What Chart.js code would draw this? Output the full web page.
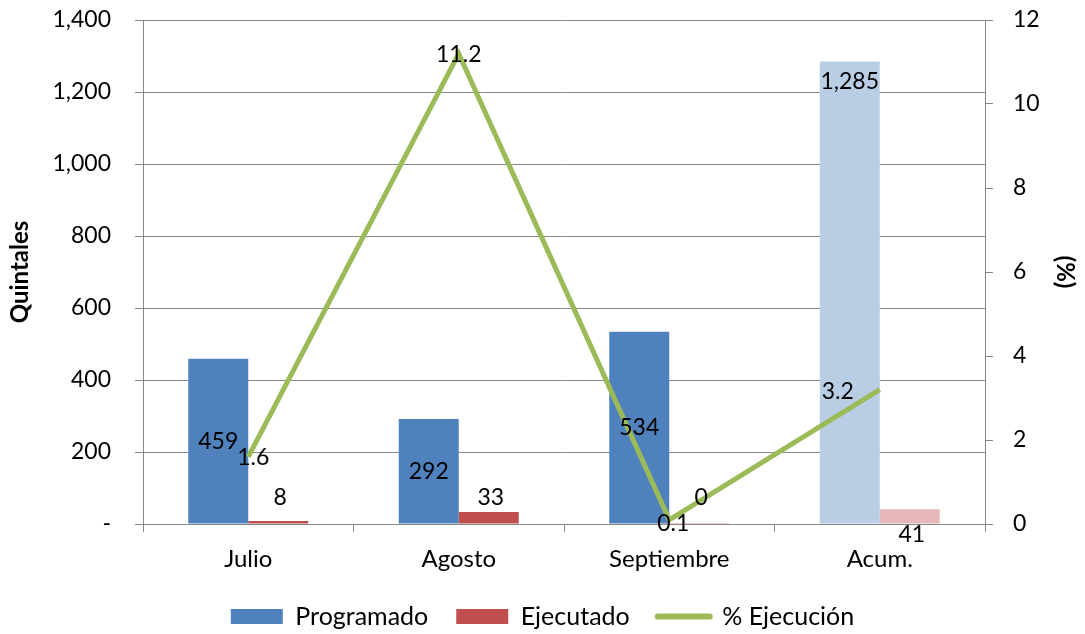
<!DOCTYPE html>
<html>
<head>
<meta charset="utf-8">
<script src="https://cdn.jsdelivr.net/npm/chart.js@4.4.1/dist/chart.umd.min.js"></script>
<style>
  html, body { margin: 0; padding: 0; background: #fff; }
  #wrap { width: 1085px; height: 634px; }
</style>
</head>
<body>
<div id="wrap"><canvas id="grafico" width="1085" height="634"></canvas></div>
<script>
// Datos del gráfico
const categorias = ['Julio', 'Agosto', 'Septiembre', 'Acum.'];
const programado = [459, 292, 534, 1285];
const ejecutado = [8, 33, 0.4, 41];
const porcEjecucion = [1.6, 11.2, 0.1, 3.2];
const ticksQuintales = [0, 200, 400, 600, 800, 1000, 1200, 1400];
const ticksPorc = [0, 2, 4, 6, 8, 10, 12];

const AZUL = '#4F81BD';
const AZUL_CLARO = '#B9CDE5';
const ROJO = '#C0504D';
const ROJO_CLARO = '#E6B9B8';
const VERDE = '#9BBB59';
const GRIS = '#878787';
const FUENTE = 'Lato, "Open Sans", sans-serif';

// Desplazamientos de las etiquetas de la línea (px respecto al punto)
const offsetsLinea = [[5, 1], [0, 1], [4, 4], [-42, 2]];

const fmt = v => Math.round(v).toLocaleString('en-US');

// Plugin sencillo para las etiquetas de datos
const etiquetasPlugin = {
  id: 'etiquetas',
  afterDatasetsDraw(chart) {
    const ctx = chart.ctx;
    ctx.save();
    ctx.font = '23px ' + FUENTE;
    ctx.fillStyle = '#000';
    ctx.textAlign = 'center';
    ctx.textBaseline = 'middle';

    // Programado
    chart.getDatasetMeta(0).data.forEach((el, i) => {
      const y = i === 3 ? el.y + 20 : (el.y + el.base) / 2;
      ctx.fillText(fmt(programado[i]), el.x, y);
    });

    // Ejecutado
    chart.getDatasetMeta(1).data.forEach((el, i) => {
      const y = i === 3 ? el.base + 11 : el.base - 26;
      ctx.fillText(fmt(ejecutado[i]), el.x + 2, y);
    });

    // % Ejecución
    chart.getDatasetMeta(2).data.forEach((el, i) => {
      const [dx, dy] = offsetsLinea[i];
      ctx.fillText(porcEjecucion[i].toFixed(1), el.x + dx, el.y + dy);
    });
    ctx.restore();
  }
};

// Ajuste del ancho de los ejes verticales sin relleno extra arriba/abajo
const ajustarEjeY = ancho => scale => {
  scale.width = ancho;
  scale.paddingTop = 0;
  scale.paddingBottom = 0;
};

const ctx = document.getElementById('grafico');
new Chart(ctx, {
  type: 'bar',
  data: {
    labels: categorias,
    datasets: [
      {
        label: 'Programado',
        data: programado,
        backgroundColor: programado.map((_, i) => i === 3 ? AZUL_CLARO : AZUL),
        yAxisID: 'y',
        order: 2,
        categoryPercentage: 0.57,
        barPercentage: 1
      },
      {
        label: 'Ejecutado',
        data: ejecutado,
        backgroundColor: ejecutado.map((_, i) => i === 3 ? ROJO_CLARO : ROJO),
        yAxisID: 'y',
        order: 2,
        categoryPercentage: 0.57,
        barPercentage: 1
      },
      {
        type: 'line',
        label: '% Ejecución',
        data: porcEjecucion,
        borderColor: VERDE,
        backgroundColor: VERDE,
        borderWidth: 5,
        borderJoinStyle: 'miter',
        pointRadius: 0,
        tension: 0,
        yAxisID: 'y1',
        order: 1
      }
    ]
  },
  options: {
    responsive: false,
    animation: false,
    layout: { padding: { top: 20, left: 0, right: 0, bottom: -5 } },
    plugins: {
      tooltip: { enabled: false },
      legend: {
        position: 'bottom',
        labels: {
          font: { family: FUENTE, size: 25 },
          color: '#000',
          usePointStyle: true,
          pointStyleWidth: 52,
          boxWidth: 52,
          boxHeight: 15,
          padding: 28,
          generateLabels(chart) {
            return [
              { text: 'Programado', fillStyle: AZUL, strokeStyle: AZUL, lineWidth: 0, pointStyle: 'rect', datasetIndex: 0 },
              { text: 'Ejecutado', fillStyle: ROJO, strokeStyle: ROJO, lineWidth: 0, pointStyle: 'rect', datasetIndex: 1 },
              { text: '% Ejecución', fillStyle: VERDE, strokeStyle: VERDE, lineWidth: 6, lineCap: 'round', pointStyle: 'line', datasetIndex: 2 }
            ];
          }
        }
      }
    },
    scales: {
      x: {
        grid: {
          offset: true,
          drawOnChartArea: false,
          color: GRIS,
          tickLength: 8
        },
        border: { color: GRIS },
        ticks: {
          font: { family: FUENTE, size: 24 },
          color: '#000',
          padding: 13
        },
        afterFit(scale) { scale.height = 52; }
      },
      y: {
        position: 'left',
        min: 0,
        max: 1400,
        afterBuildTicks(scale) { scale.ticks = ticksQuintales.map(v => ({ value: v })); },
        grid: { color: GRIS, tickLength: 8 },
        border: { color: GRIS },
        ticks: {
          font: { family: FUENTE, size: 23 },
          color: '#000',
          padding: 24,
          callback: v => v === 0 ? '-' : v.toLocaleString('en-US')
        },
        title: {
          display: true,
          text: 'Quintales',
          font: { family: FUENTE, size: 24, weight: 'bold' },
          color: '#000',
          padding: { top: 6, bottom: 0 }
        },
        afterFit: ajustarEjeY(143)
      },
      y1: {
        position: 'right',
        min: 0,
        max: 12,
        afterBuildTicks(scale) { scale.ticks = ticksPorc.map(v => ({ value: v })); },
        grid: { drawOnChartArea: false, color: GRIS, tickLength: 8 },
        border: { color: GRIS },
        ticks: {
          font: { family: FUENTE, size: 23 },
          color: '#000',
          padding: 20
        },
        title: {
          display: true,
          text: '(%)',
          font: { family: FUENTE, size: 24, weight: 'bold' },
          color: '#000',
          padding: { top: 6, bottom: 0 }
        },
        afterFit: ajustarEjeY(100)
      }
    }
  },
  plugins: [etiquetasPlugin]
});
</script>
</body>
</html>
